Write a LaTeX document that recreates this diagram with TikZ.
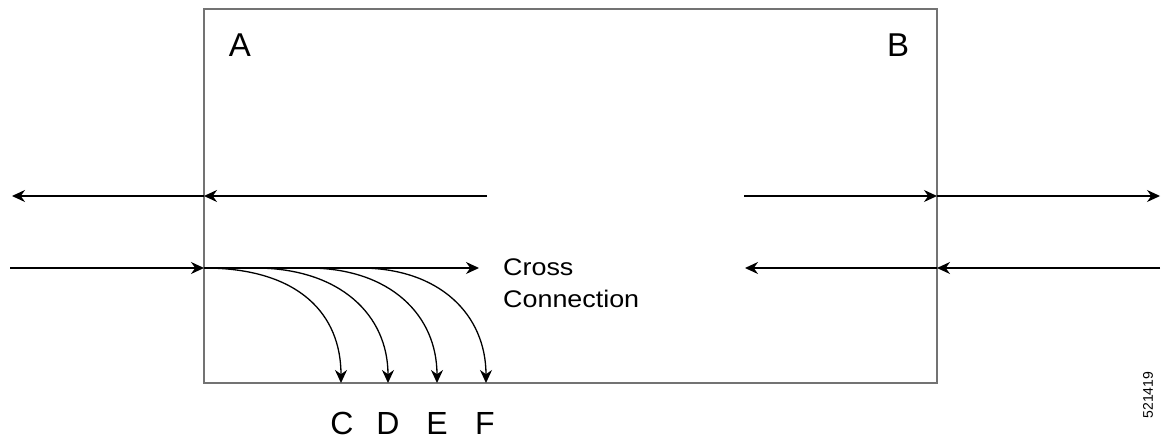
\documentclass[tikz,border=0pt]{standalone}
\usepackage{fontspec}
\setmainfont{Liberation Sans}
\usetikzlibrary{arrows.meta}
\begin{document}
\begin{tikzpicture}[x=1pt,y=-1pt,
  conn/.style={line width=1.3pt,-{Stealth[length=13pt,width=12pt]}},
  lbl/.style={font=\fontsize{33}{36}\selectfont,inner sep=0pt,anchor=base},
  port/.style={font=\fontsize{32}{36}\selectfont,inner sep=0pt,anchor=base},
  cctext/.style={font=\fontsize{24}{32}\selectfont,anchor=base west,inner sep=0pt,xscale=1.12}]
\useasboundingbox (0,0) rectangle (1170,441);
\draw[line width=1.8pt,draw=black!55] (204,9) rectangle (937,383);
\node[lbl] (A) at (240,57) {A};
\node[lbl] (B) at (898,57) {B};
% coordinates
\coordinate (ltA) at (204,196);
\coordinate (lt0) at (12,196);
\coordinate (lt1) at (487,196);
\coordinate (rt0) at (744,196);
\coordinate (rtB) at (937,196);
\coordinate (rt1) at (1160,196);
\coordinate (lb0) at (10,268);
\coordinate (lbA) at (204,268);
\coordinate (lb1) at (479,268);
\coordinate (rb0) at (1160,268);
\coordinate (rbB) at (937,268);
\coordinate (rb1) at (745,268);
\coordinate (sD) at (255,268);
\coordinate (sE) at (308,268);
\coordinate (sF) at (360,268);
\coordinate (eC) at (341,383);
\coordinate (eD) at (388,383);
\coordinate (eE) at (437,383);
\coordinate (eF) at (486,383);
\draw[conn] (lt1) -- (ltA);
\draw[conn] (ltA) -- (lt0);
\draw[conn] (rt0) -- (rtB);
\draw[conn] (rtB) -- (rt1);
\draw[conn] (lb0) -- (lbA);
\draw[conn] (lbA) -- (lb1);
\draw[conn] (rb0) -- (rbB);
\draw[conn] (rbB) -- (rb1);
\draw[conn] (lbA) .. controls (300,268) and (341,315) .. (eC);
\draw[conn] (sD) .. controls (340,268) and (388,315) .. (eD);
\draw[conn] (sE) .. controls (390,268) and (437,315) .. (eE);
\draw[conn] (sF) .. controls (440,268) and (486,315) .. (eF);
\node[cctext] (cc1) at (503,275) {Cross};
\node[cctext] (cc2) at (503,307) {Connection};
\node[port] (C) at (342,434) {C};
\node[port] (D) at (388,434) {D};
\node[port] (E) at (437,434) {E};
\node[port] (F) at (485,434) {F};
\node[font=\fontsize{14}{16}\selectfont,rotate=90,inner sep=0pt] (id) at (1148,395) {521419};
\end{tikzpicture}
\end{document}
